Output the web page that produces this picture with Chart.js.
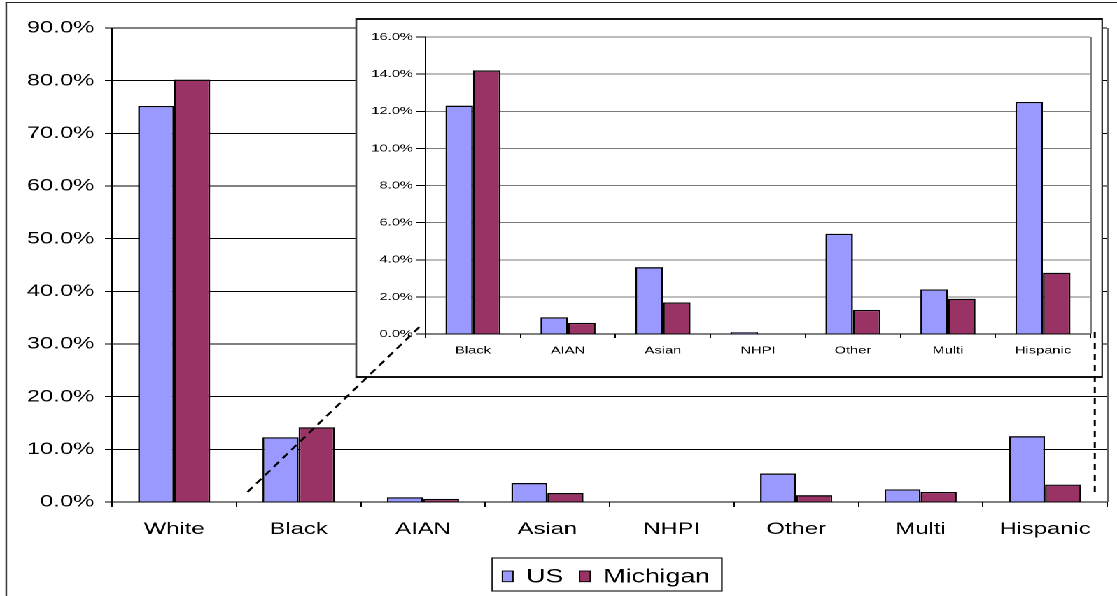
<!DOCTYPE html>
<html>
<head>
<meta charset="utf-8">
<script src="https://cdn.jsdelivr.net/npm/chart.js@4/dist/chart.umd.min.js"></script>
<style>
  html, body { margin: 0; padding: 0; background: #fff; overflow: hidden; width: 1117px; height: 596px; }
  /* the reference picture is horizontally stretched; reproduce that with one uniform scaleX */
  #stage { position: absolute; left: 0; top: 0; width: 798px; height: 596px; transform-origin: 0 0; transform: scaleX(1.39975); }
  #frame { position: absolute; left: 4.3px; top: 1.6px; width: 900px; height: 700px; border-left: 1.5px solid #222; border-top: 1.6px solid #222; }
  #main { position: absolute; left: 0; top: 0; }
  #insetBox { position: absolute; left: 253.5px; top: 18px; width: 534.5px; height: 360px; box-sizing: border-box; border-style: solid; border-color: #111; border-width: 2px 1.5px; background: #fff; }
  #inset { position: absolute; left: 255px; top: 20px; }
  #overlay { position: absolute; left: 0; top: 0; pointer-events: none; }
</style>
</head>
<body>
<div id="stage">
  <div id="frame"></div>
  <canvas id="main" width="798" height="596"></canvas>
  <div id="insetBox"></div>
  <canvas id="inset" width="531" height="356"></canvas>
  <canvas id="overlay" width="798" height="596"></canvas>
</div>
<script>
// ---------- data ----------
const categories     = ['White', 'Black', 'AIAN', 'Asian', 'NHPI', 'Other', 'Multi', 'Hispanic'];
const seriesNames    = ['US', 'Michigan'];
const usValues       = [75.2, 12.3, 0.9, 3.6, 0.1, 5.4, 2.4, 12.5];
const michiganValues = [80.2, 14.2, 0.6, 1.7, 0.0, 1.3, 1.9, 3.3];
const mainTickValues  = [0, 10, 20, 30, 40, 50, 60, 70, 80, 90];
const insetTickValues = [0, 2, 4, 6, 8, 10, 12, 14, 16];
// inset shows every category except the first
const insetCategories = categories.slice(1);
const insetUs         = usValues.slice(1);
const insetMichigan   = michiganValues.slice(1);

// ---------- styling ----------
const FONT = '"Liberation Sans", Arial, Helvetica, sans-serif';
const US_COLOR = '#9999FF';
const MI_COLOR = '#993366';
const pct = v => Number(v).toFixed(1) + '%';
const INSET_POS = { left: 255, top: 20 };

function datasets(us, mi) {
  return [
    { label: seriesNames[0], data: us, backgroundColor: US_COLOR, borderColor: '#000', borderWidth: 1.3, categoryPercentage: 0.58, barPercentage: 1.0 },
    { label: seriesNames[1], data: mi, backgroundColor: MI_COLOR, borderColor: '#000', borderWidth: 1.3, categoryPercentage: 0.58, barPercentage: 1.0 }
  ];
}

const rightEdge = color => ({
  id: 'rightEdge',
  afterDatasetsDraw(chart) {
    const { ctx, chartArea: a } = chart;
    ctx.save();
    ctx.strokeStyle = color; ctx.lineWidth = 1;
    ctx.beginPath(); ctx.moveTo(a.right + 0.5, a.top); ctx.lineTo(a.right + 0.5, a.bottom); ctx.stroke();
    ctx.restore();
  }
});

const boxedLegend = {
  id: 'boxedLegend',
  afterDraw(chart) {
    const ctx = chart.ctx;
    ctx.save();
    ctx.font = '19px ' + FONT;
    const sw = 7.6, sh = 10.7, gapST = 9.5, gapItems = 11.7, padL = 7.2, padR = 8.5;
    const items = chart.data.datasets.map(ds => ({ label: ds.label, color: ds.backgroundColor, w: ctx.measureText(ds.label).width }));
    let total = padL + padR;
    items.forEach((it, i) => { total += sw + gapST + it.w + (i ? gapItems : 0); });
    const cx = 433.7, top = 558, h = 33;
    const left = cx - total / 2;
    ctx.strokeStyle = '#222'; ctx.lineWidth = 1.2;
    ctx.strokeRect(left, top, total, h);
    let x = left + padL;
    items.forEach((it, i) => {
      if (i) x += gapItems;
      ctx.fillStyle = it.color; ctx.fillRect(x, 571, sw, sh);
      ctx.strokeStyle = '#000'; ctx.lineWidth = 0.9; ctx.strokeRect(x, 571, sw, sh);
      x += sw + gapST;
      ctx.fillStyle = '#000'; ctx.textBaseline = 'alphabetic'; ctx.textAlign = 'left';
      ctx.fillText(it.label, x, 582.3);
      x += it.w;
    });
    ctx.restore();
  }
};

const mainChart = new Chart(document.getElementById('main'), {
  type: 'bar',
  data: { labels: categories, datasets: datasets(usValues, michiganValues) },
  options: {
    responsive: false, animation: false, devicePixelRatio: 2,
    layout: { padding: { left: 0, right: 7, top: 28, bottom: 0 } },
    plugins: { legend: { display: false }, tooltip: { enabled: false } },
    scales: {
      x: {
        grid: { drawOnChartArea: false, drawTicks: true, tickLength: 5, color: '#000', offset: true },
        border: { color: '#000', width: 1 },
        ticks: { color: '#000', padding: 12, font: { family: FONT, size: 17 }, maxRotation: 0 },
        afterFit: s => { s.height = 94; }
      },
      y: {
        min: mainTickValues[0], max: mainTickValues[mainTickValues.length - 1],
        afterBuildTicks: s => { s.ticks = mainTickValues.map(v => ({ value: v })); },
        grid: { color: '#000', lineWidth: 1, tickLength: 5 },
        border: { color: '#000', width: 1 },
        ticks: { color: '#000', padding: 7.6, font: { family: FONT, size: 17 }, callback: pct },
        afterFit: s => { s.width = 80; }
      }
    }
  },
  plugins: [rightEdge('#666'), boxedLegend]
});

const insetChart = new Chart(document.getElementById('inset'), {
  type: 'bar',
  data: { labels: insetCategories, datasets: datasets(insetUs, insetMichigan) },
  options: {
    responsive: false, animation: false, devicePixelRatio: 2,
    layout: { padding: { left: 0, right: 7, top: 17, bottom: 0 } },
    plugins: { legend: { display: false }, tooltip: { enabled: false } },
    scales: {
      x: {
        grid: { drawOnChartArea: false, drawTicks: true, tickLength: 4, color: '#000', offset: true },
        border: { color: '#000', width: 1 },
        ticks: { color: '#000', padding: 6.4, font: { family: FONT, size: 10.5 }, maxRotation: 0 },
        afterFit: s => { s.height = 42; }
      },
      y: {
        min: insetTickValues[0], max: insetTickValues[insetTickValues.length - 1],
        afterBuildTicks: s => { s.ticks = insetTickValues.map(v => ({ value: v })); },
        grid: { color: '#7a7a7a', tickColor: '#000', lineWidth: 1, tickLength: 7 },
        border: { color: '#000', width: 1 },
        ticks: { color: '#000', padding: 2, font: { family: FONT, size: 10.5 }, callback: pct },
        afterFit: s => { s.width = 49; }
      }
    }
  },
  plugins: [rightEdge('#808080')]
});

// ---------- dashed zoom connectors (anchored in data units) ----------
(function drawConnectors() {
  const cv = document.getElementById('overlay');
  const dpr = 2;
  cv.width = 798 * dpr; cv.height = 596 * dpr;
  cv.style.width = '798px'; cv.style.height = '596px';
  const ctx = cv.getContext('2d');
  ctx.scale(dpr, dpr);
  const mx = mainChart.scales.x, my = mainChart.scales.y;
  const ix = insetChart.scales.x, iy = insetChart.scales.y;
  ctx.strokeStyle = '#000';
  ctx.setLineDash([6, 4.5]);
  // left connector: near the White/Black boundary up to the inset's origin
  ctx.lineWidth = 1.7;
  ctx.beginPath();
  ctx.moveTo(mx.getPixelForValue(0.59), my.getPixelForValue(1.9));
  ctx.lineTo(INSET_POS.left + ix.getPixelForValue(-0.54), INSET_POS.top + iy.getPixelForValue(0.5));
  ctx.stroke();
  // right connector: vertical, beyond the last category
  ctx.lineWidth = 1.5;
  ctx.setLineDash([6, 5]);
  const rx = mx.getPixelForValue(7.40);
  ctx.beginPath();
  ctx.moveTo(rx, my.getPixelForValue(1.9));
  ctx.lineTo(rx, INSET_POS.top + iy.getPixelForValue(0.2));
  ctx.stroke();
})();
</script>
</body>
</html>
